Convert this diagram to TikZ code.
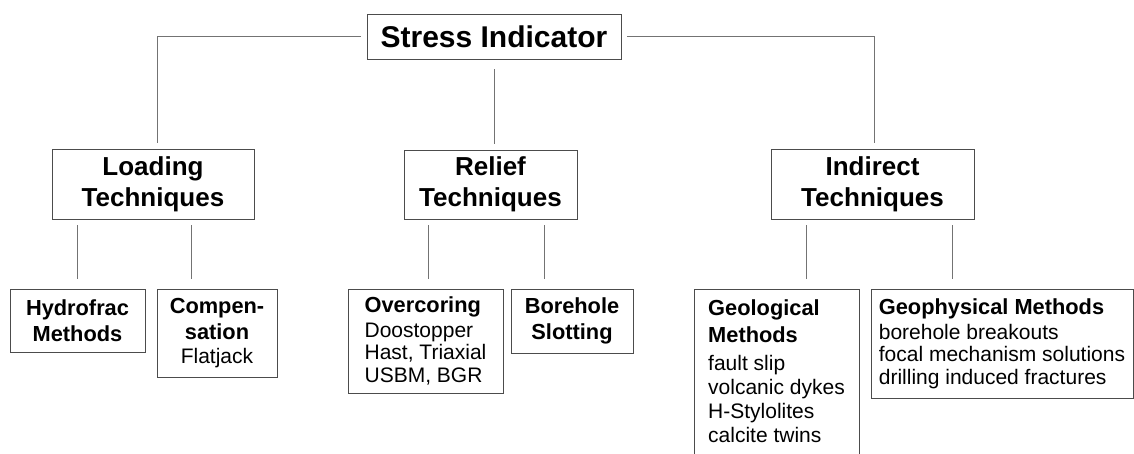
\documentclass[tikz,border=0pt]{standalone}
\usepackage{fontspec}
\setmainfont{Liberation Sans}
\usepackage{tikz}

\tikzset{
    box/.style={draw=black!70, line width=0.9pt, inner sep=0pt, align=center},
    rootbox/.style={box, font=\fontsize{30}{36}\selectfont\bfseries},
    techbox/.style={box, font=\fontsize{26}{31}\selectfont\bfseries},
    leafbox/.style={box, font=\fontsize{21.8}{26}\selectfont\bfseries},
    listbox/.style={box, align=left, font=\fontsize{21}{22.6}\selectfont},
    link/.style={draw=black!55, line width=0.9pt}
}
\newcommand{\hd}[1]{{\bfseries\fontsize{21.8}{26}\selectfont #1}}

\begin{document}
\begin{tikzpicture}[x=1pt, y=-1pt]
        \path[use as bounding box] (0,0) rectangle (1134,453);
        \clip (0,0) rectangle (1134,453);

        % Root
        \node[rootbox, minimum width=254pt, minimum height=45pt] (stress) at (494,36.5) {Stress Indicator};

        % Techniques
        \node[techbox, minimum width=202pt, minimum height=70pt] (loading) at (153,184) {Loading\\Techniques};
        \node[techbox, minimum width=173pt, minimum height=69pt] (relief) at (490.5,184.5) {Relief\\Techniques};
        \node[techbox, minimum width=203pt, minimum height=70pt] (indirect) at (872.5,184) {Indirect\\Techniques};

        % Methods
        \node[leafbox, minimum width=135pt, minimum height=63pt] (hydro) at (77.5,320.5) {Hydrofrac\\Methods};
        \node[leafbox, minimum width=120pt, minimum height=88pt] (comp) at (217,333)
            {Compen-\\sation\\[-2pt]{\mdseries\fontsize{21}{24}\selectfont Flatjack}};
        \node[listbox, minimum width=155pt, minimum height=104pt] (overc) at (425.5,341)
            {\hd{Overcoring}\\[1.7pt] Doostopper\\ Hast, Triaxial\\ USBM, BGR};
        \node[leafbox, minimum width=122pt, minimum height=64pt] (bore) at (572,321) {Borehole\\Slotting};
        \node[listbox, font=\fontsize{21}{24}\selectfont, minimum width=165pt, minimum height=183pt,
              anchor=north] (geol) at (776.5,289)
            {\hd{Geological}\\[2.7pt] \hd{Methods}\\[4.3pt] fault slip\\ volcanic dykes\\ H-Stylolites\\
             calcite twins\rule[-20pt]{0pt}{20pt}};
        \node[listbox, minimum width=262pt, minimum height=109pt] (geoph) at (1002,343.5)
            {\hd{Geophysical Methods}\\[2.4pt] borehole breakouts\\ focal mechanism solutions\\ drilling induced fractures};

        % Connectors from the root
        \draw[link] ([xshift=-6pt]stress.west) -| ([xshift=4pt,yshift=6pt]loading.north);
        \draw[link] ([yshift=-10pt]stress.south) -- ([yshift=6pt]stress.south |- relief.north);
        \draw[link] ([xshift=6pt]stress.east) -| ([xshift=1.5pt,yshift=6pt]indirect.north);

        % Connectors to the methods
        \foreach \up/\kid/\dx in {loading/hydro/0, loading/comp/-26, relief/overc/2.5,
                                  relief/bore/-28, indirect/geol/29.5, indirect/geoph/-50} {
            \draw[link] ([xshift=\dx pt,yshift=10pt]\kid.north) -- ([xshift=\dx pt,yshift=-6pt]\kid.north |- \up.south);
        }
    \end{tikzpicture}
\end{document}
